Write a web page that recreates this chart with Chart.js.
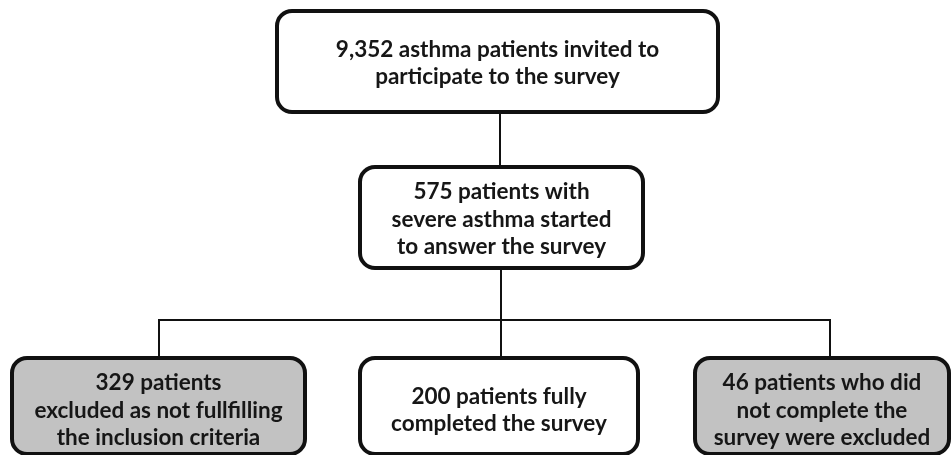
<!DOCTYPE html>
<html lang="en">
<head>
<meta charset="utf-8">
<script src="https://cdn.jsdelivr.net/npm/chart.js@4.4.1/dist/chart.umd.min.js"></script>
<style>
  body { margin: 0; background: #fff; }
</style>
</head>
<body>
<canvas id="flow" width="952" height="455"></canvas>
<script>
// flow stages, top to bottom then left to right
const stageText = [
  ['9,352 asthma patients invited to', 'participate to the survey'],
  ['575 patients with', 'severe asthma started', 'to answer the survey'],
  ['329 patients', 'excluded as not fullfilling', 'the inclusion criteria'],
  ['200 patients fully', 'completed the survey'],
  ['46 patients who did', 'not complete the', 'survey were excluded']
];
const stageExcluded = [false, false, true, false, true];
// parent of each stage (-1 = root)
const stageParent = [-1, 0, 1, 1, 1];

// layout in page units (y grows downward)
const boxLeft = [277, 360, 12, 360, 695];
const boxTop = [11, 167, 358, 358, 358];
const boxWidth = [441, 283, 293, 278, 254];
const boxHeight = [101, 101, 96, 96, 96];
const textMid = [61.5, 217.5, 408.5, 408.5, 408.5];
const linkX = [500, 501, 159, 501, 830];
const branchY = 320;

// connector paths built from the layout
const links = [];
for (let i = 0; i < stageText.length; i++) {
  const p = stageParent[i];
  if (p < 0) continue;
  const yFrom = boxTop[p] + boxHeight[p];
  const yTo = boxTop[i];
  let pts;
  if (i === 1) {
    pts = [{x: linkX[p], y: yFrom}, {x: linkX[p], y: yTo}];
  } else {
    pts = [{x: linkX[p], y: yFrom}, {x: linkX[p], y: branchY},
           {x: linkX[i], y: branchY}, {x: linkX[i], y: yTo}];
  }
  links.push({
    type: 'line',
    data: pts,
    borderColor: '#111',
    borderWidth: 2,
    pointRadius: 0,
    tension: 0
  });
}

// text anchor of each box as hidden points
const centers = stageText.map((t, i) => ({
  x: boxLeft[i] + boxWidth[i] / 2,
  y: textMid[i]
}));

const boxPlugin = {
  id: 'boxes',
  afterDatasetsDraw(chart) {
    const ctx = chart.ctx;
    const xs = chart.scales.x, ys = chart.scales.y;
    ctx.save();
    for (let i = 0; i < stageText.length; i++) {
      const x0 = xs.getPixelForValue(boxLeft[i]);
      const x1 = xs.getPixelForValue(boxLeft[i] + boxWidth[i]);
      const y0 = ys.getPixelForValue(boxTop[i]);
      const y1 = ys.getPixelForValue(boxTop[i] + boxHeight[i]);
      ctx.beginPath();
      ctx.roundRect(x0, y0, x1 - x0, y1 - y0, 15);
      ctx.fillStyle = stageExcluded[i] ? '#c2c2c2' : '#ffffff';
      ctx.fill();
      ctx.lineWidth = 4;
      ctx.strokeStyle = '#111';
      ctx.stroke();

      const c = centers[i];
      const cx = xs.getPixelForValue(c.x);
      const cy = ys.getPixelForValue(c.y);
      const lines = stageText[i];
      const lh = 27.5;
      ctx.fillStyle = '#161616';
      ctx.font = 'bold 22.5px Lato';
      ctx.textAlign = 'center';
      ctx.textBaseline = 'alphabetic';
      lines.forEach((s, k) => {
        ctx.fillText(s, cx, cy + (k - (lines.length - 1) / 2) * lh + 9);
      });
    }
    ctx.restore();
  }
};

new Chart(document.getElementById('flow'), {
  type: 'scatter',
  data: {
    datasets: [
      ...links,
      { data: centers, pointRadius: 0 }
    ]
  },
  options: {
    responsive: false,
    animation: false,
    layout: { padding: 0 },
    plugins: { legend: { display: false }, tooltip: { enabled: false } },
    scales: {
      x: { type: 'linear', min: 0, max: 952, display: false },
      y: { type: 'linear', min: 0, max: 455, reverse: true, display: false }
    }
  },
  plugins: [boxPlugin]
});
</script>
</body>
</html>
